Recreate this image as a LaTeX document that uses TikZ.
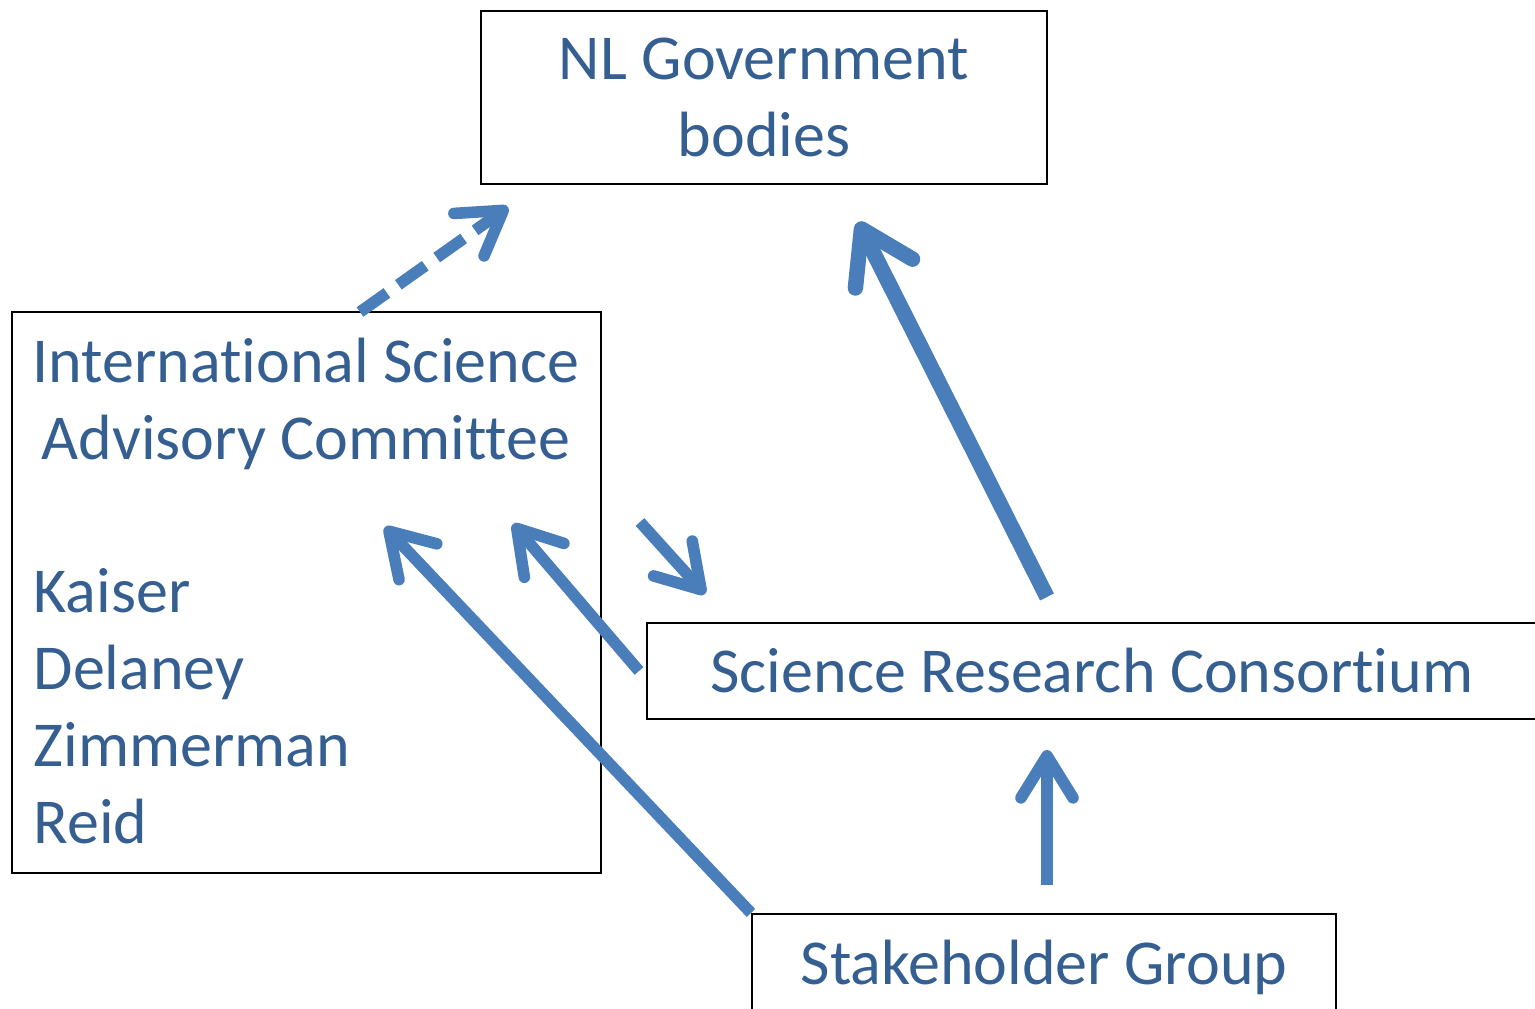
\documentclass[tikz,border=0pt]{standalone}
\usepackage{fontspec}
\setmainfont{Carlito}[RawFeature={-liga;-calt;-clig}]
\usetikzlibrary{arrows.meta}

\definecolor{linkblue}{RGB}{74,126,187}
\definecolor{labelblue}{RGB}{54,95,145}

\tikzset{
  box/.style={draw=black,line width=0.6pt,inner sep=0pt,text=labelblue,
    font=\fontsize{18.2}{21.9}\selectfont,align=center},
  txt/.style={inner sep=0pt,text=labelblue,font=\fontsize{18.2}{21.9}\selectfont},
  link/.style={draw=linkblue,line width=3.3pt,
    -{Straight Barb[round,length=4.2mm,width=5.2mm]}},
  biglink/.style={link,line width=4.4pt,
    -{Straight Barb[round,length=5mm,width=6.4mm]}},
}

\begin{document}
\begin{tikzpicture}[x=0.01cm,y=-0.01cm]
\useasboundingbox (0,0) rectangle (1535,1009);

\node[box,minimum width=5.66cm,minimum height=1.73cm] (gov) at (764,97.5) {NL Government\\bodies};
\node[box,minimum width=5.89cm,minimum height=5.61cm] (isac) at (306.5,592.5) {};
\node[txt,align=center] (isachead) at (306,404) {International Science\\Advisory Committee};
\node[txt,align=left,anchor=west] (members) at (33,706) {Kaiser\\Delaney\\Zimmerman\\Reid};
\node[box,minimum width=8.9cm,minimum height=0.96cm] (src) at (1092,671) {Science Research Consortium};
\node[box,minimum width=5.84cm,minimum height=0.96cm] (sg) at (1044,962) {\raisebox{-6.5pt}[0pt][0pt]{Stakeholder Group}};

\coordinate (isacout) at (360,312);
\coordinate (govin) at (508,207);
\coordinate (srcup) at (1047,597);
\coordinate (govright) at (858,222);
\coordinate (sgleft) at (751,913);
\coordinate (isacin) at (385,527);
\coordinate (srcleft) at (639,671);
\coordinate (isacin2) at (513,524);
\coordinate (isacout2) at (640,522);
\coordinate (srcin) at (705,594);
\coordinate (sgup) at (1047,885);
\coordinate (srcbelow) at (1047,750);

\draw[link,dash pattern=on 3.3mm off 1.4mm] (isacout) -- (govin);
\draw[biglink] (srcup) -- (govright);
\draw[link] (sgleft) -- (isacin);
\draw[link] (srcleft) -- (isacin2);
\draw[link] (isacout2) -- (srcin);
\draw[link] (sgup) -- (srcbelow);
\end{tikzpicture}
\end{document}
